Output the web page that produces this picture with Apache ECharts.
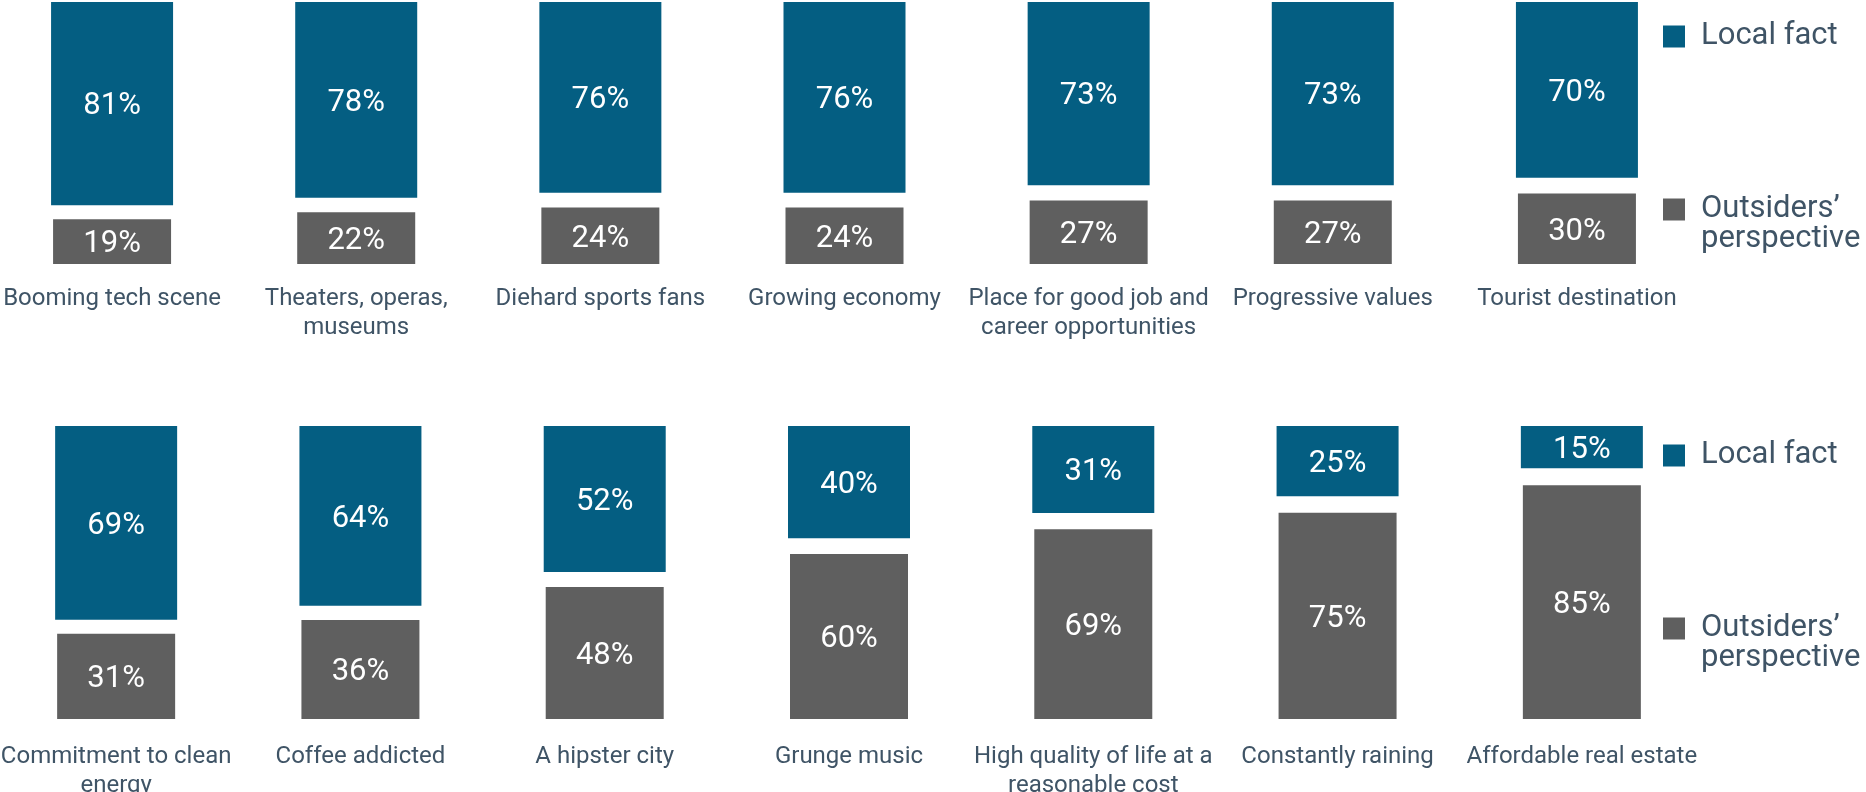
<!DOCTYPE html>
<html>
<head>
<meta charset="utf-8">
<title>Local fact vs. outsiders' perspective</title>
<script src="https://cdn.jsdelivr.net/npm/echarts@6/dist/echarts.min.js"></script>
<style>
  html, body { margin: 0; padding: 0; background: #ffffff; }
  #chart { width: 1866px; height: 792px; }
</style>
</head>
<body>
<div id="chart"></div>
<script>
// Top row
const categoriesTop = [
  'Booming tech scene',
  'Theaters, operas,\nmuseums',
  'Diehard sports fans',
  'Growing economy',
  'Place for good job and\ncareer opportunities',
  'Progressive values',
  'Tourist destination'
];
const localTop = [81, 78, 76, 76, 73, 73, 70];
const outsidersTop = [19, 22, 24, 24, 27, 27, 30];

// Bottom row
const categoriesBottom = [
  'Commitment to clean\nenergy',
  'Coffee addicted',
  'A hipster city',
  'Grunge music',
  'High quality of life at a\nreasonable cost',
  'Constantly raining',
  'Affordable real estate'
];
const localBottom = [69, 64, 52, 40, 31, 25, 15];
const outsidersBottom = [31, 36, 48, 60, 69, 75, 85];

const LOCAL = 'Local fact';
const OUTSIDERS = 'Outsiders\u2019 perspective';

const BLUE = '#045E82';
const GREY = '#5F5F5F';
const TEXT = '#3F5466';
const FONT = 'Roboto, "Noto Sans", sans-serif';

// Per-row geometry: grid box and value-axis ranges (local bars hang from the top,
// outsider bars rise from the bottom, leaving a white gap between them)
const rows = [
  { cats: categoriesTop, local: localTop, out: outsidersTop,
    left: -10, width: 1709, top: 2, height: 262,
    localMax: 104.4, outMax: 111.5, labelMargin: 20 },
  { cats: categoriesBottom, local: localBottom, out: outsidersBottom,
    left: -6, width: 1710, top: 426, height: 293,
    localMax: 104.3, outMax: 106.5, labelMargin: 23 }
];

const grid = [], xAxis = [], yAxis = [], series = [];

rows.forEach((r, i) => {
  grid.push({
    left: r.left, top: r.top, width: r.width, height: r.height,
    containLabel: false, outerBoundsMode: 'none'
  });

  // local-fact category axis (no labels)
  xAxis.push({
    type: 'category', gridIndex: i, data: r.cats, position: 'bottom',
    axisLine: { show: false }, axisTick: { show: false }, axisLabel: { show: false }
  });
  // outsiders category axis carries the category names
  xAxis.push({
    type: 'category', gridIndex: i, data: r.cats, position: 'bottom',
    axisLine: { show: false }, axisTick: { show: false },
    axisLabel: {
      show: true, interval: 0, margin: r.labelMargin,
      color: TEXT, fontFamily: FONT, fontSize: 24, lineHeight: 29
    }
  });

  yAxis.push({ type: 'value', gridIndex: i, inverse: true, min: 0, max: r.localMax, show: false, splitLine: { show: false } });
  yAxis.push({ type: 'value', gridIndex: i, min: 0, max: r.outMax, show: false, splitLine: { show: false } });

  const valueLabel = {
    show: true, position: 'inside', formatter: '{c}%', offset: [0, 3],
    color: '#ffffff', fontFamily: FONT, fontSize: 31
  };

  series.push({
    name: LOCAL, type: 'bar', xAxisIndex: i * 2, yAxisIndex: i * 2,
    data: r.local, barWidth: 122,
    itemStyle: { color: BLUE },
    label: valueLabel, emphasis: { disabled: true }, animation: false
  });
  series.push({
    name: OUTSIDERS, type: 'bar', xAxisIndex: i * 2 + 1, yAxisIndex: i * 2 + 1,
    data: r.out, barWidth: 118,
    itemStyle: { color: GREY },
    label: valueLabel, emphasis: { disabled: true }, animation: false
  });
});

// The outsiders entry starts with an empty line so its first text line sits
// level with the swatch and the second line hangs below it.
function legendItem(name, top, twoLine) {
  return {
    data: [name], left: 1663, top: top, orient: 'vertical',
    padding: 0, itemWidth: 22, itemHeight: 22, itemGap: 0,
    icon: 'rect', selectedMode: false,
    formatter: twoLine ? '\nOutsiders\u2019\nperspective' : '{name}',
    textStyle: {
      color: TEXT, fontFamily: FONT, fontSize: 31, lineHeight: 30,
      padding: [0, 0, 0, 11]
    }
  };
}

const legend = [
  legendItem(LOCAL, 21, false),
  legendItem(OUTSIDERS, 164, true),
  legendItem(LOCAL, 440, false),
  legendItem(OUTSIDERS, 583, true)
];

const chart = echarts.init(document.getElementById('chart'), null, { renderer: 'canvas' });
chart.setOption({
  backgroundColor: '#ffffff',
  animation: false,
  grid, xAxis, yAxis, series, legend
});
</script>
</body>
</html>
